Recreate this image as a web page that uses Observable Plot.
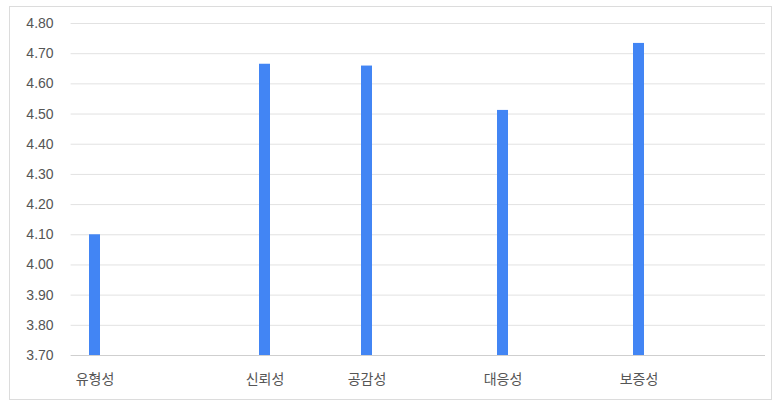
<!DOCTYPE html>
<html>
<head>
<meta charset="utf-8">
<script src="https://cdn.jsdelivr.net/npm/d3@7"></script>
<script src="https://cdn.jsdelivr.net/npm/@observablehq/plot@0.6"></script>
<style>
  html, body { margin: 0; padding: 0; background: #fff; }
  #wrap { position: relative; width: 775px; height: 401px; }
  #border { position: absolute; left: 9px; top: 6px; width: 761px; height: 392px; border: 1px solid #dcdcdc; pointer-events: none; }
  svg { display: block; }
</style>
</head>
<body>
<div id="wrap"><div id="border"></div></div>
<script>
// Data
const categories = ["유형성", "신뢰성", "공감성", "대응성", "보증성"];
const values = [4.10, 4.665, 4.659, 4.512, 4.734];
// slot of each category along the 20-slot category axis (as laid out in the reference)
const slots = [0, 5, 8, 12, 16];
const slotCount = 20;
const yTicks = [3.7, 3.8, 3.9, 4.0, 4.1, 4.2, 4.3, 4.4, 4.5, 4.6, 4.7, 4.8];

const data = categories.map((c, i) => ({category: c, value: values[i], slot: slots[i]}));
const yMin = yTicks[0], yMax = yTicks[yTicks.length - 1];

const chart = Plot.plot({
  width: 775,
  height: 401,
  marginLeft: 70.6,
  marginRight: 10,
  marginTop: 23,
  marginBottom: 46,
  style: {fontFamily: "'Liberation Sans', Arial, 'Noto Sans CJK KR', sans-serif", fontSize: "14px", color: "#555", background: "transparent"},
  x: {type: "band", domain: d3.range(slotCount), paddingInner: 0.68, paddingOuter: 0.34, axis: null},
  y: {domain: [yMin, yMax], axis: null},
  marks: [
    Plot.gridY(yTicks.slice(1), {stroke: "#e2e2e2", strokeOpacity: 1}),
    Plot.ruleY([yMin], {stroke: "#cfcfcf"}),
    Plot.barY(data, {x: "slot", y1: yMin, y2: "value", fill: "#4285f4"}),
    Plot.axisY({ticks: yTicks, tickFormat: d3.format(".2f"), tickSize: 0, tickPadding: 17.5, fontSize: 14, fill: "#555", label: null}),
    Plot.axisX({ticks: slots, tickFormat: s => categories[slots.indexOf(s)], tickSize: 0, tickPadding: 19, fontSize: 14, fill: "#555", label: null})
  ]
});
document.getElementById("wrap").prepend(chart);
</script>
</body>
</html>
